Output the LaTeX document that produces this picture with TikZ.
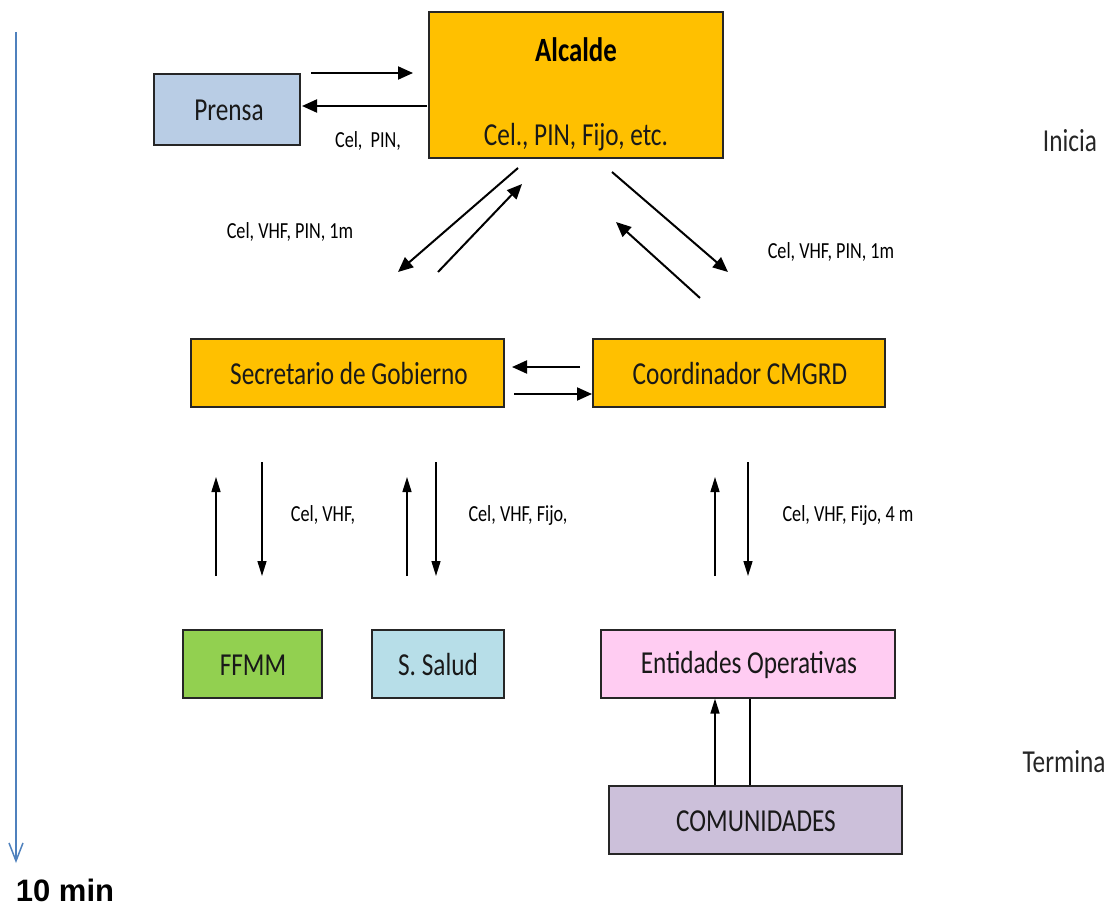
\documentclass[tikz,border=0pt]{standalone}
\usepackage{fontspec}
\setmainfont{Carlito}[FakeStretch=0.79]
\newfontfamily\tenfont{Liberation Sans}
\usetikzlibrary{arrows.meta,calc}
\definecolor{gold}{HTML}{FFC000}
\definecolor{prensa}{HTML}{B9CDE5}
\definecolor{ffmm}{HTML}{92D050}
\definecolor{salud}{HTML}{B7DEE8}
\definecolor{entid}{HTML}{FFCCF2}
\definecolor{comun}{HTML}{CCC0DA}
\definecolor{tline}{HTML}{4F81BD}
\tikzset{
  box/.style={draw=black!85, line width=1.2pt, inner sep=0pt, minimum width=#1},
  boxtext/.style={font=\fontsize{32}{35}\selectfont, text=black!90, inner sep=0pt},
  lbl/.style={font=\fontsize{23}{26}\selectfont, inner sep=0pt},
  side/.style={font=\fontsize{32}{35}\selectfont, text=black!85, inner sep=0pt},
  arr/.style={line width=2pt, -{Triangle[length=15pt,width=13pt]}},
  varr/.style={line width=1.5pt, -{Triangle[length=15pt,width=9pt]}},
}
\begin{document}
\begin{tikzpicture}[x=1pt,y=-1pt]
\useasboundingbox (0,0) rectangle (1109,907);
% boxes
\node[box=294pt, minimum height=146pt, fill=gold] (alc) at (576,85) {};
\node[font=\bfseries\fontsize{34}{37}\selectfont, inner sep=0pt] (alct) at (576,50) {Alcalde};
\node[boxtext] (alcs) at (576,137) {Cel., PIN, Fijo, etc.};
\node[box=146pt, minimum height=71pt, fill=prensa] (pre) at (227,109.5) {};
\node[boxtext] (pret) at (229,110) {Prensa};
\node[box=313pt, minimum height=68pt, fill=gold] (sec) at (347.5,373) {};
\node[boxtext] (sect) at (349,374) {Secretario de Gobierno};
\node[box=292pt, minimum height=68pt, fill=gold] (coo) at (739,373) {};
\node[boxtext] (coot) at (740,374) {Coordinador CMGRD};
\node[box=139pt, minimum height=68pt, fill=ffmm] (ffm) at (252.5,664) {};
\node[boxtext] (ffmt) at (253,665) {FFMM};
\node[box=132pt, minimum height=68pt, fill=salud] (sal) at (438,664) {};
\node[boxtext] (salt) at (438,665) {S. Salud};
\node[box=294pt, minimum height=68pt, fill=entid] (ent) at (748,664) {};
\node[boxtext] (entt) at (749,665) {Entidades Operativas};
\node[box=293pt, minimum height=68pt, fill=comun] (com) at (755.5,820) {};
\node[boxtext] (comt) at (756,821) {COMUNIDADES};
% labels
\node[lbl] (l1) at (368,141) {Cel,\ \ PIN,};
\node[lbl] (l2) at (290,232) {Cel, VHF, PIN, 1m};
\node[lbl] (l3) at (831,252) {Cel, VHF, PIN, 1m};
\node[lbl] (l4) at (323,515) {Cel, VHF,};
\node[lbl] (l5) at (518,515) {Cel, VHF, Fijo,};
\node[lbl] (l6) at (848,515) {Cel, VHF, Fijo, 4 m};
\node[side] (ini) at (1070,141) {Inicia};
\node[side] (ter) at (1064,762) {Termina};
\node[font=\tenfont\bfseries\fontsize{31}{33}\selectfont, inner sep=0pt] (ten) at (65,890) {10 min};
% coordinates for connectors
\coordinate (p1) at (311,73); \coordinate (a1) at (413,73);
\coordinate (a2) at (427,106); \coordinate (p2) at (302,106);
\coordinate (a3) at (518,168); \coordinate (s3) at (398,272);
\coordinate (s4) at (438,272); \coordinate (a4) at (522,184);
\coordinate (a5) at (612,172); \coordinate (c5) at (728,272);
\coordinate (c6) at (700,298); \coordinate (a6) at (616,222);
\coordinate (c7) at (580,367); \coordinate (s7) at (512,367);
\coordinate (s8) at (514,394); \coordinate (c8) at (592,394);
\coordinate (f1) at (216,576); \coordinate (f2) at (216,477);
\coordinate (f3) at (262,462); \coordinate (f4) at (262,576);
\coordinate (h1) at (407,576); \coordinate (h2) at (407,477);
\coordinate (h3) at (436,462); \coordinate (h4) at (436,576);
\coordinate (e1) at (715,576); \coordinate (e2) at (715,477);
\coordinate (e3) at (748,462); \coordinate (e4) at (748,576);
\coordinate (t0) at (16,32); \coordinate (t1) at (16,863);
% connectors
\draw[arr] (p1) -- (a1);
\draw[arr] (a2) -- (p2);
\draw[arr] (a3) -- (s3);
\draw[arr] (s4) -- (a4);
\draw[arr] (a5) -- (c5);
\draw[arr] (c6) -- (a6);
\draw[arr] (c7) -- (s7);
\draw[arr] (s8) -- (c8);
\draw[varr] (f1) -- (f2);
\draw[varr] (f3) -- (f4);
\draw[varr] (h1) -- (h2);
\draw[varr] (h3) -- (h4);
\draw[varr] (e1) -- (e2);
\draw[varr] (e3) -- (e4);
\draw[varr] (com.north -| e1) -- (ent.south -| e1);
\draw[line width=1.5pt] (com.north -| 750,0) -- (ent.south -| 750,0);
\draw[tline, line width=1.5pt, -{Straight Barb[length=18pt,width=14pt]}] (t0) -- (t1);
\end{tikzpicture}
\end{document}
